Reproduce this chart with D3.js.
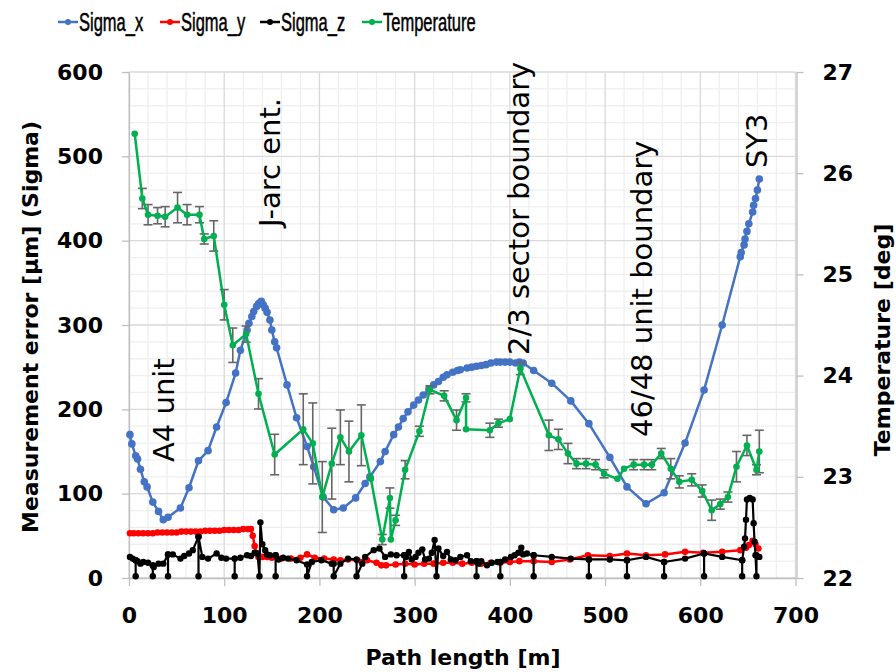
<!DOCTYPE html>
<html>
<head>
<meta charset="utf-8">
<script src="https://cdn.jsdelivr.net/npm/d3@7"></script>
<style>
  body { margin: 0; background: #fff; }
  svg { display: block; }
</style>
</head>
<body>
<svg id="chart" width="896" height="672"></svg>
<script>
// ---- data: [path length m, value] ----
const xTicks = [0, 100, 200, 300, 400, 500, 600, 700];
const leftTicks = [0, 100, 200, 300, 400, 500, 600];
const rightTicks = [22, 23, 24, 25, 26, 27];

const sigmaX = [[1,170],[3,159],[7,145],[9,141],[12,129],[16,114],[19,108],[25,90],[31,79],[36,69],[41,72],
  [54,83],[63,107],[73,139],[83,151],[92,179],[102,208],[112,243],[117,270],[124,294],[126,302],[129,310],
  [131,316],[134,322],[136,325],[138,327],[139,328],[141,324],[143,320],[145,315],[148,306],[150,294],[153,280],
  [155,273],[166,229],[176,190],[187,156],[194,132],[204,96],[215,81],[225,83],[238,95],[248,112],[253,120],
  [264,138],[269,150],[278,170],[283,179],[288,189],[293,197],[299,205],[304,211],[309,217],[315,224],[320,229],
  [325,233],[330,238],[334,241],[340,244],[345,246],[348,247],[355,249],[360,250],[365,251],[370,252],[375,253],
  [380,255],[386,256],[390,256],[395,256],[400,256],[406,255],[410,256],[414,255],[425,246],[444,231],[464,210],
  [483,183],[505,143],[523,108],[543,88],[562,101],[584,160],[604,223],[623,300],[642,381],[643,386],[646,395],
  [647,402],[649,411],[651,420],[655,434],[656,442],[658,450],[660,460],[662,473]];

const sigmaY = [[1,53],[5,53],[10,53],[15,53],[20,53],[25,53],[30,54],[35,54],[40,54],[45,54],[50,54],[55,55],
  [60,55],[65,55],[70,55],[75,55],[80,56],[85,56],[90,56],[95,56],[100,57],[105,57],[110,57],[115,57],[120,58],
  [125,58],[128,58],[130,50],[132,38],[134,29],[136,25],[140,25],[145,25],[150,24],[160,23],[170,23],[180,24],
  [187,28],[195,24],[205,23],[215,22],[222,21],[230,22],[240,21],[250,21],[260,18],[265,15],[270,15],[280,16],
  [290,17],[300,16],[310,17],[320,17],[330,18],[340,18],[350,17],[360,18],[370,17],[380,18],[390,18],[400,19],
  [410,20],[425,20],[444,19],[463,22],[482,27],[505,26],[523,29],[543,27],[563,28],[584,31],[603,30],[623,31],
  [642,33],[648,36],[651,39],[655,44],[658,40],[661,35]];

const sigmaZ = [[1,25],[4,23],[7,21],[7,2],[7,21],[9,20],[12,17],[15,19],[20,18],[25,15],[25,2],[25,15],[26,13],
  [31,17],[36,17],[41,28],[41,2],[41,28],[46,28],[54,23],[58,26],[63,29],[67,33],[73,49],[73,2],[73,49],[77,25],
  [83,23],[92,29],[97,24],[102,23],[111,23],[111,2],[111,23],[117,24],[124,27],[128,26],[132,30],[135,29],
  [137,2],[138,66],[140,40],[143,33],[145,28],[148,27],[154,27],[154,2],[154,27],[157,22],[162,24],[167,23],
  [176,21],[187,16],[187,2],[192,19],[202,21],[213,17],[215,17],[215,2],[222,17],[230,23],[239,22],[239,2],
  [245,17],[248,25],[257,33],[263,35],[269,25],[275,28],[281,27],[289,27],[289,2],[289,27],[291,25],[294,31],
  [297,22],[301,25],[304,30],[308,34],[311,22],[315,23],[318,30],[321,45],[323,2],[325,35],[330,26],[334,31],
  [338,22],[343,21],[348,25],[355,27],[359,20],[365,20],[365,2],[365,20],[367,17],[370,20],[376,15],[381,18],
  [387,19],[390,19],[390,2],[390,19],[395,22],[401,25],[405,27],[409,30],[412,36],[414,28],[418,29],[425,27],
  [425,2],[425,27],[444,25],[464,23],[483,22],[483,2],[483,22],[505,22],[523,21],[523,2],[523,21],[543,25],
  [562,19],[562,2],[562,19],[584,23],[604,29],[604,2],[604,29],[623,25],[644,21],[644,2],[644,21],[646,37],
  [647,47],[648,69],[649,93],[652,95],[655,93],[656,65],[657,43],[658,27],[659,2],[659,27],[662,25]];

// [path length m, temperature deg, error]
const temperature = [[6,26.39,0],[14,25.75,0.1],[20,25.59,0.1],[30,25.58,0.08],[38,25.57,0.1],[51,25.66,0.15],
  [61,25.59,0.1],[74,25.59,0.08],[79,25.35,0.05],[89,25.38,0.15],[100,24.70,0.15],[109,24.30,0.17],
  [123,24.41,0.08],[136,23.82,0.15],[153,23.22,0.2],[183,23.47,0.35],[193,23.33,0.4],[203,22.80,0.35],
  [213,23.13,0.35],[222,23.39,0.27],[231,23.25,0.3],[244,23.41,0.3],[254,22.98,0],[266,22.38,0.05],
  [274,22.79,0.1],[275,22.38,0],[280,22.57,0.05],[290,23.07,0.09],[305,23.45,0.05],[316,23.86,0.04],
  [331,23.80,0.05],[344,23.56,0.1],[354,23.78,0.04],[354,23.47,0],[379,23.46,0.07],[388,23.53,0.04],
  [400,23.57,0],[411,24.07,0.06],[441,23.41,0.15],[451,23.37,0.1],[461,23.23,0.1],[470,23.13,0.05],
  [480,23.13,0.05],[490,23.12,0.05],[499,23.03,0.04],[513,22.98,0],[520,23.08,0],[530,23.12,0.05],
  [541,23.12,0.05],[549,23.12,0.05],[559,23.23,0.05],[569,23.08,0.1],[578,22.95,0.06],[591,22.97,0.06],
  [602,22.86,0.06],[612,22.67,0.1],[621,22.73,0.05],[629,22.80,0.05],[638,23.10,0.15],[649,23.31,0.1],
  [659,23.07,0.05],[662,23.25,0.21]];

const legendNames = ["Sigma_x", "Sigma_y", "Sigma_z", "Temperature"];
const colors = ["#4472C4", "#FF0000", "#000000", "#00B050"];

// annotations: [text, baseline x px, start y px]
const notes = [["A4 unit", 174, 462], ["J-arc ent.", 280, 227], ["2/3 sector boundary", 529, 355],
  ["46/48 unit boundary", 652, 437], ["SY3", 767, 168]];

const svg = d3.select("#chart");
const font = "'DejaVu Sans', Verdana, sans-serif";

// scales
const scX = d3.scaleLinear().domain([0, 700]).range([129, 795.5]);
const scY = d3.scaleLinear().domain([0, 600]).range([578, 72]);
const scT = d3.scaleLinear().domain([22, 27]).range([578, 72]);

// grid: minor every 20, major every 100
const grid = svg.append("g");
d3.range(20, 701, 20).filter(v => v % 100 != 0).forEach(v => {
  grid.append("line").attr("x1", scX(v)).attr("x2", scX(v)).attr("y1", scY(0)).attr("y2", scY(600))
    .attr("stroke", "#efefef").attr("stroke-width", 1.3);
});
d3.range(20, 601, 20).filter(v => v % 100 != 0).forEach(v => {
  grid.append("line").attr("x1", scX(0)).attr("x2", scX(700)).attr("y1", scY(v)).attr("y2", scY(v))
    .attr("stroke", "#efefef").attr("stroke-width", 1.3);
});
xTicks.forEach(v => {
  grid.append("line").attr("x1", scX(v)).attr("x2", scX(v)).attr("y1", scY(0)).attr("y2", scY(600))
    .attr("stroke", "#d9d9d9").attr("stroke-width", 1.3);
});
leftTicks.forEach(v => {
  grid.append("line").attr("x1", scX(0)).attr("x2", scX(700)).attr("y1", scY(v)).attr("y2", scY(v))
    .attr("stroke", "#d9d9d9").attr("stroke-width", 1.3);
});

// axes
function styleAxis(g) {
  g.selectAll("path, line").attr("stroke", "#bfbfbf").attr("stroke-width", 1.3);
  g.selectAll("text").attr("font-family", font).attr("font-size", 22).attr("font-weight", "bold").attr("fill", "#000");
}
svg.append("g").attr("transform", `translate(${scX(0)},0)`)
  .call(d3.axisLeft(scY).tickValues(leftTicks).tickSize(7).tickPadding(19).tickSizeOuter(0)).call(styleAxis);
svg.append("g").attr("transform", `translate(0,${scY(0)})`)
  .call(d3.axisBottom(scX).tickValues(xTicks).tickSize(8).tickPadding(21).tickSizeOuter(0)).call(styleAxis);
svg.append("g").attr("transform", `translate(${scX(700) + 1},0)`)
  .call(d3.axisRight(scT).tickValues(rightTicks).tickFormat(d3.format("d")).tickSize(7).tickPadding(19).tickSizeOuter(0))
  .call(styleAxis);

// series
function drawSeries(data, sy, color, width, r) {
  const line = d3.line().x(d => scX(d[0])).y(d => sy(d[1]));
  svg.append("path").datum(data).attr("d", line).attr("fill", "none")
    .attr("stroke", color).attr("stroke-width", width).attr("stroke-linejoin", "round");
  svg.append("g").selectAll("circle").data(data).enter().append("circle")
    .attr("cx", d => scX(d[0])).attr("cy", d => sy(d[1])).attr("r", r).attr("fill", color);
}
drawSeries(sigmaX, scY, colors[0], 2.5, 3.8);
drawSeries(sigmaY, scY, colors[1], 2.5, 3.3);
drawSeries(sigmaZ, scY, colors[2], 2.2, 3.2);

// temperature error bars, then the line on top
const eb = svg.append("g").attr("stroke", "#666").attr("stroke-width", 1.6);
temperature.filter(d => d[2] > 0).forEach(d => {
  const cx = scX(d[0]);
  eb.append("line").attr("x1", cx).attr("x2", cx).attr("y1", scT(d[1] - d[2])).attr("y2", scT(d[1] + d[2]));
  [d[1] - d[2], d[1] + d[2]].forEach(v => {
    eb.append("line").attr("x1", cx - 4.5).attr("x2", cx + 4.5).attr("y1", scT(v)).attr("y2", scT(v));
  });
});
drawSeries(temperature, scT, colors[3], 2.5, 3.3);

// annotations
notes.forEach(n => {
  svg.append("text").attr("transform", `translate(${n[1]},${n[2]}) rotate(-90)`)
    .attr("font-family", font).attr("font-size", 29).attr("fill", "#000").text(n[0]);
});

// axis titles
svg.append("text").attr("x", 463).attr("y", 665).attr("text-anchor", "middle")
  .attr("font-family", font).attr("font-size", 22).attr("font-weight", "bold").text("Path length [m]");
svg.append("text").attr("transform", "translate(38,327) rotate(-90)").attr("text-anchor", "middle")
  .attr("font-family", font).attr("font-size", 22).attr("font-weight", "bold").text("Measurement error [μm] (Sigma)");
svg.append("text").attr("transform", "translate(890,340) rotate(-90)").attr("text-anchor", "middle")
  .attr("font-family", font).attr("font-size", 22).attr("font-weight", "bold").text("Temperature [deg]");

// legend (narrow text, squeezed horizontally)
const legX = [58, 160, 260, 362];
legendNames.forEach((name, i) => {
  const g = svg.append("g").attr("transform", `translate(${legX[i]},22)`);
  g.append("line").attr("x1", 0).attr("x2", 20).attr("stroke", colors[i]).attr("stroke-width", 2.5);
  g.append("circle").attr("cx", 10).attr("r", 3).attr("fill", colors[i]);
  g.append("text").attr("transform", "translate(21,9) scale(0.66,1)")
    .attr("font-family", "'Liberation Sans', Arial, sans-serif")
    .attr("font-size", 25).attr("stroke", "#000").attr("stroke-width", 0.5).attr("fill", "#000").text(name);
});
</script>
</body>
</html>
